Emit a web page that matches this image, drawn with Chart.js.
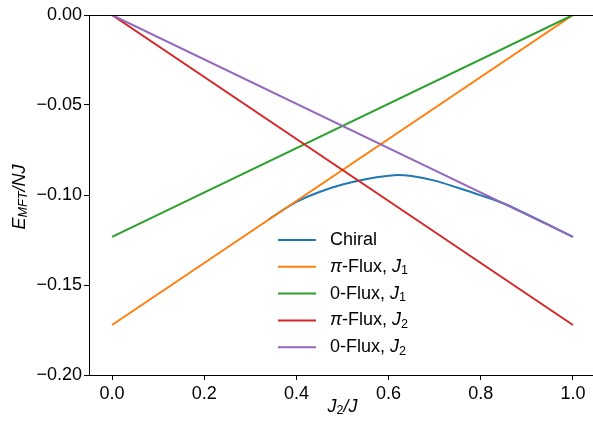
<!DOCTYPE html>
<html>
<head>
<meta charset="utf-8">
<script src="https://cdn.jsdelivr.net/npm/chart.js@4/dist/chart.umd.min.js"></script>
<style>
  html, body { margin: 0; padding: 0; background: #fff; overflow: hidden; }
  canvas { display: block; }
</style>
</head>
<body>
<canvas id="energyChart" width="597" height="424"></canvas>
<script>
// Data
const lineX = [0, 1];
const piFluxJ1 = [-0.1722, 0];
const zeroFluxJ1 = [-0.1233, 0];
const piFluxJ2 = [0, -0.1722];
const zeroFluxJ2 = [0, -0.1233];

const chiralX = [0.34, 0.40, 0.45, 0.50, 0.55, 0.60, 0.62, 0.65, 0.70, 0.75, 0.80, 0.85, 0.90, 0.95, 1.00];
const chiralY = [-0.1135, -0.1038, -0.0983, -0.0942, -0.0912, -0.0893, -0.0889, -0.0895, -0.0920, -0.0960, -0.1002, -0.1047, -0.1107, -0.1169, -0.1233];

const seriesNames = ["Chiral", "π-Flux, J1", "0-Flux, J1", "π-Flux, J2", "0-Flux, J2"];
const seriesColors = ["#1f77b4", "#ff7f0e", "#2ca02c", "#d62728", "#9467bd"];

const xTicks = [0, 0.2, 0.4, 0.6, 0.8, 1.0];
const yTicks = [-0.20, -0.15, -0.10, -0.05, 0.00];

const FONT = "'Liberation Sans', Arial, sans-serif";
const FS = 18;

const toPoints = (xs, ys) => xs.map((x, i) => ({ x: x, y: ys[i] }));
const seriesData = [
    toPoints(chiralX, chiralY),
    toPoints(lineX, piFluxJ1),
    toPoints(lineX, zeroFluxJ1),
    toPoints(lineX, piFluxJ2),
    toPoints(lineX, zeroFluxJ2)
];

// split a label into pieces: π and J italic, digit right after J is a subscript
function labelTokens(label) {
    const out = [];
    for (let i = 0; i < label.length; i++) {
        const c = label[i];
        if (c === "π" || c === "J") out.push({ t: c, it: true });
        else if (/[0-9]/.test(c) && i > 0 && label[i - 1] === "J") out.push({ t: c, sub: true });
        else out.push({ t: c });
    }
    return out;
}

function tokenFont(tok) {
    const size = tok.sub ? FS * 0.7 : FS;
    return (tok.it ? "italic " : "") + size + "px " + FONT;
}

function tokensWidth(ctx, tokens) {
    let w = 0;
    tokens.forEach(tok => { ctx.font = tokenFont(tok); w += ctx.measureText(tok.t).width; });
    return w;
}

function drawTokens(ctx, tokens, x, y) {
    let cx = x;
    tokens.forEach(tok => {
        ctx.font = tokenFont(tok);
        ctx.fillText(tok.t, cx, tok.sub ? y + FS * 0.22 : y);
        cx += ctx.measureText(tok.t).width;
    });
}

// top spine, axis titles and the legend
const extrasPlugin = {
    id: "extras",
    afterDraw(chart) {
        const ctx = chart.ctx;
        const area = chart.chartArea;
        ctx.save();
        ctx.strokeStyle = "#000";
        ctx.lineWidth = 1;
        ctx.beginPath();
        ctx.moveTo(area.left, area.top + 0.5);
        ctx.lineTo(area.right, area.top + 0.5);
        ctx.stroke();

        ctx.fillStyle = "#000";
        ctx.textBaseline = "middle";

        // x title J_2/J
        const xt = [{ t: "J", it: true }, { t: "2", sub: true }, { t: "/J", it: true }];
        const xw = tokensWidth(ctx, xt);
        drawTokens(ctx, xt, (area.left + area.right) / 2 - xw / 2, 407);

        // y title E_MFT/NJ
        const yt = [{ t: "E", it: true }, { t: "MFT", it: true, sub: true }, { t: "/NJ", it: true }];
        const yw = tokensWidth(ctx, yt);
        ctx.save();
        ctx.translate(20, (area.top + area.bottom) / 2 + 2);
        ctx.rotate(-Math.PI / 2);
        drawTokens(ctx, yt, -yw / 2, 0);
        ctx.restore();

        // legend
        const lx = 278, ly = 240, gap = 26.8;
        chart.data.datasets.forEach((ds, i) => {
            const y = ly + i * gap;
            ctx.strokeStyle = ds.borderColor;
            ctx.lineWidth = 2;
            ctx.beginPath();
            ctx.moveTo(lx, y);
            ctx.lineTo(lx + 38, y);
            ctx.stroke();
            drawTokens(ctx, labelTokens(ds.label), lx + 52, y);
        });
        ctx.restore();
    }
};

const energyChart = new Chart(document.getElementById("energyChart"), {
    type: "line",
    data: {
        datasets: seriesNames.map((name, i) => ({
            label: name,
            data: seriesData[i],
            borderColor: seriesColors[i],
            backgroundColor: seriesColors[i],
            borderWidth: 2,
            pointRadius: 0,
            fill: false,
            cubicInterpolationMode: i === 0 ? "monotone" : "default",
            order: seriesNames.length - i
        }))
    },
    options: {
        responsive: false,
        animation: false,
        devicePixelRatio: 1,
        layout: { padding: { top: 15, right: 1, left: 0, bottom: 0 } },
        plugins: {
            legend: { display: false },
            tooltip: { enabled: false }
        },
        scales: {
            x: {
                type: "linear",
                min: -0.05,
                max: 1.05,
                afterBuildTicks: s => { s.ticks = xTicks.map(v => ({ value: v })); },
                afterFit: s => { s.height = 49; s.paddingLeft = 0; s.paddingRight = 0; },
                ticks: {
                    color: "#000",
                    font: { family: FONT, size: FS },
                    padding: 3,
                    maxRotation: 0,
                    callback: v => v.toFixed(1)
                },
                grid: { display: true, drawOnChartArea: false, drawTicks: true, tickLength: 5, color: "#000" },
                border: { display: true, color: "#000", width: 1 }
            },
            y: {
                min: -0.2,
                max: 0,
                afterBuildTicks: s => { s.ticks = yTicks.map(v => ({ value: v })); },
                afterFit: s => { s.width = 89; },
                ticks: {
                    color: "#000",
                    font: { family: FONT, size: FS },
                    padding: 2,
                    callback: v => v.toFixed(2).replace("-", "\u2212")
                },
                grid: { display: true, drawOnChartArea: false, drawTicks: true, tickLength: 5, color: "#000" },
                border: { display: true, color: "#000", width: 1 }
            }
        }
    },
    plugins: [extrasPlugin]
});
</script>
</body>
</html>
